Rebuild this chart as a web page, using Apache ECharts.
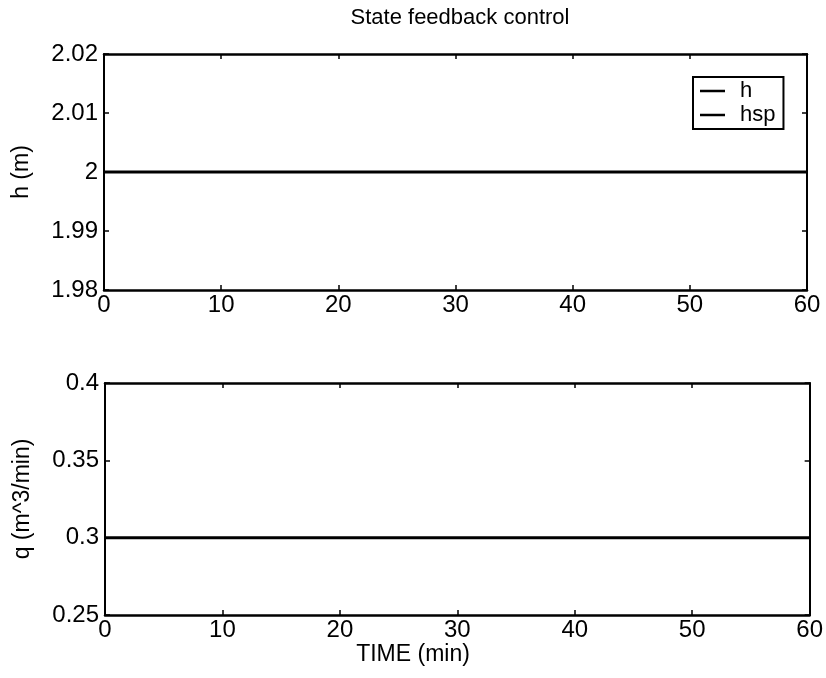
<!DOCTYPE html>
<html>
<head>
<meta charset="utf-8">
<script src="https://cdn.jsdelivr.net/npm/echarts@6/dist/echarts.min.js"></script>
<style>html,body{margin:0;padding:0;background:#fff;}#c{width:826px;height:678px;}</style>
</head>
<body>
<div id="c"></div>
<script>
// ---- data ----
var time = [0, 60];
var hValues = [2, 2];
var hspValues = [2, 2];
var qValues = [0.3, 0.3];
var xTickLabels = ['0', '10', '20', '30', '40', '50', '60'];
var hTickLabels = ['1.98', '1.99', '2', '2.01', '2.02'];
var qTickLabels = ['0.25', '0.3', '0.35', '0.4'];
var titleText = 'State feedback control';

var FONT = 'Liberation Sans, Arial, sans-serif';
var chart = echarts.init(document.getElementById('c'), null, {renderer: 'canvas'});

function labelFrom(arr, min, step) {
  return function (v) {
    var i = Math.round((v - min) / step);
    return arr[i] !== undefined ? arr[i] : '';
  };
}
function xAx(gi, show) {
  return {
    type: 'value', gridIndex: gi, min: 0, max: 60, interval: 10,
    position: show ? 'bottom' : 'top',
    axisLine: {show: true, onZero: false, lineStyle: {color: '#000', width: 2.5}},
    axisTick: {show: true, inside: true, length: 5, lineStyle: {color: '#000', width: 1.5}},
    axisLabel: {show: show, color: '#000', fontFamily: FONT, fontSize: 24, margin: 3,
      formatter: labelFrom(xTickLabels, 0, 10)},
    splitLine: {show: false}
  };
}
function yAx(gi, show, min, max, step, labels, name) {
  return {
    type: 'value', gridIndex: gi, min: min, max: max, interval: step,
    position: show ? 'left' : 'right',
    name: show ? name : '', nameLocation: 'middle', nameGap: 71,
    nameTextStyle: {color: '#000', fontFamily: FONT, fontSize: 23},
    axisLine: {show: true, onZero: false, lineStyle: {color: '#000', width: 2}},
    axisTick: {show: true, inside: true, length: 5, lineStyle: {color: '#000', width: 1.5}},
    axisLabel: {show: show, color: '#000', fontFamily: FONT, fontSize: 24, margin: 6,
      formatter: labelFrom(labels, min, step)},
    splitLine: {show: false}
  };
}
function pts(xs, ys) { return xs.map(function (x, i) { return [x, ys[i]]; }); }

chart.setOption({
  backgroundColor: '#fff',
  animation: false,
  color: ['#000', '#000', '#000'],
  title: {
    text: titleText, left: 455, top: 2, textAlign: 'center',
    textStyle: {color: '#000', fontFamily: FONT, fontSize: 22, fontWeight: 'normal'}
  },
  legend: {
    data: [{name: 'h', icon: 'rect'}, {name: 'hsp', icon: 'rect'}],
    orient: 'vertical', left: 693, top: 77,
    padding: [3, 8, 3, 7], itemGap: 2, itemWidth: 25, itemHeight: 2.5,
    borderColor: '#000', borderWidth: 2, backgroundColor: '#fff',
    itemStyle: {color: '#000'},
    textStyle: {color: '#000', fontFamily: FONT, fontSize: 22, lineHeight: 21, padding: [0, 0, 0, 10]}
  },
  grid: [
    {left: 104, right: 19, top: 54, height: 236},
    {left: 105, right: 15, top: 383, height: 232}
  ],
  xAxis: [xAx(0, true), xAx(0, false), xAx(1, true), xAx(1, false)],
  yAxis: [
    yAx(0, true, 1.98, 2.02, 0.01, hTickLabels, 'h (m)'),
    yAx(0, false, 1.98, 2.02, 0.01, hTickLabels, ''),
    yAx(1, true, 0.25, 0.4, 0.05, qTickLabels, 'q (m^3/min)'),
    yAx(1, false, 0.25, 0.4, 0.05, qTickLabels, '')
  ],
  graphic: [{
    type: 'text', left: 'center', top: 643,
    style: {text: 'TIME (min)', fill: '#000', font: '23px ' + FONT}
  }],
  series: [
    {name: 'hsp', type: 'line', xAxisIndex: 0, yAxisIndex: 0, data: pts(time, hspValues),
      symbol: 'none', itemStyle: {color: '#000'}, lineStyle: {color: '#000', width: 2, type: [18, 8]}, z: 2},
    {name: 'h', type: 'line', xAxisIndex: 0, yAxisIndex: 0, data: pts(time, hValues),
      symbol: 'none', itemStyle: {color: '#000'}, lineStyle: {color: '#000', width: 3}, z: 3},
    {name: 'q', type: 'line', xAxisIndex: 2, yAxisIndex: 2, data: pts(time, qValues),
      symbol: 'none', itemStyle: {color: '#000'}, lineStyle: {color: '#000', width: 3}}
  ]
});
</script>
</body>
</html>
